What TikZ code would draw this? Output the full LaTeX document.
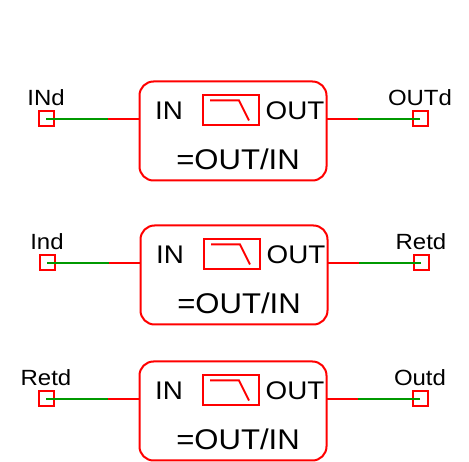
\documentclass[tikz,border=0pt]{standalone}
\usepackage{fontspec}
\setmainfont[FakeStretch=1.09]{Liberation Sans}
\usetikzlibrary{positioning}
\definecolor{wirered}{RGB}{255,0,0}
\definecolor{wiregreen}{RGB}{0,153,0}

\begin{document}
\begin{tikzpicture}[x=1pt, y=-1pt, on grid, line width=2pt,
    block/.style={draw=wirered, rounded corners=14pt, minimum width=187pt, minimum height=99pt, outer sep=0pt},
    icon/.style={draw=wirered, minimum width=56pt, minimum height=30pt, outer sep=0pt},
    pinbox/.style={draw=wirered, minimum size=15pt, outer sep=0pt},
    pinlabel/.style={inner sep=0pt, font=\fontsize{22}{22}\selectfont, text height=16pt, text depth=0pt},
    portlabel/.style={inner sep=0pt, font=\fontsize{25.5}{25.5}\selectfont, text height=18pt, text depth=0pt},
    formula/.style={inner sep=0pt, font=\fontsize{28.5}{28.5}\selectfont, text height=20pt, text depth=0pt},
    redwire/.style={draw=wirered},
    greenwire/.style={draw=wiregreen}]
  \useasboundingbox (0,0) rectangle (469,462);
  % first block
  \node[block] (b1) at (233,131) {};
  \node[icon, above left=21pt and 2.5pt of b1] (f1) {};
  \node[portlabel, below left=1pt and 61.5pt of f1] (in1) {IN};
  \node[portlabel, below right=1pt and 64.5pt of f1] (out1) {OUT};
  \node[formula, below right=28.5pt and 5pt of b1] (eq1) {=OUT/IN};
  \node[pinbox, above left=12pt and 187pt of b1] (pl1) {};
  \node[pinbox, above right=12pt and 187pt of b1] (pr1) {};
  \node[pinlabel, above=21pt of pl1] (ll1) {INd};
  \node[pinlabel, above=21pt of pr1] (lr1) {OUTd};
  \coordinate[right=62pt of pl1] (ml1);
  \coordinate[left=62pt of pr1] (mr1);
  \draw[redwire] ([shift={(-20.5pt,9.5pt)}]f1.center) -- ([shift={(8.5pt,9.5pt)}]f1.center) -- ([shift={(18.5pt,-10.5pt)}]f1.center);
  \draw[redwire] (ml1) -- (b1.west |- pl1);
  \draw[redwire] (mr1) -- (b1.east |- pr1);
  \draw[greenwire] (pl1.center) -- (ml1);
  \draw[greenwire] (pr1.center) -- (mr1);
  % second block
  \node[block] (b2) at (234,275) {};
  \node[icon, above left=21pt and 2.5pt of b2] (f2) {};
  \node[portlabel, below left=1pt and 61.5pt of f2] (in2) {IN};
  \node[portlabel, below right=1pt and 64.5pt of f2] (out2) {OUT};
  \node[formula, below right=28.5pt and 5pt of b2] (eq2) {=OUT/IN};
  \node[pinbox, above left=12pt and 187pt of b2] (pl2) {};
  \node[pinbox, above right=12pt and 187pt of b2] (pr2) {};
  \node[pinlabel, above=21pt of pl2] (ll2) {Ind};
  \node[pinlabel, above=21pt of pr2] (lr2) {Retd};
  \coordinate[right=62pt of pl2] (ml2);
  \coordinate[left=62pt of pr2] (mr2);
  \draw[redwire] ([shift={(-20.5pt,9.5pt)}]f2.center) -- ([shift={(8.5pt,9.5pt)}]f2.center) -- ([shift={(18.5pt,-10.5pt)}]f2.center);
  \draw[redwire] (ml2) -- (b2.west |- pl2);
  \draw[redwire] (mr2) -- (b2.east |- pr2);
  \draw[greenwire] (pl2.center) -- (ml2);
  \draw[greenwire] (pr2.center) -- (mr2);
  % third block
  \node[block] (b3) at (233,411) {};
  \node[icon, above left=21pt and 2.5pt of b3] (f3) {};
  \node[portlabel, below left=1pt and 61.5pt of f3] (in3) {IN};
  \node[portlabel, below right=1pt and 64.5pt of f3] (out3) {OUT};
  \node[formula, below right=28.5pt and 5pt of b3] (eq3) {=OUT/IN};
  \node[pinbox, above left=12pt and 187pt of b3] (pl3) {};
  \node[pinbox, above right=12pt and 187pt of b3] (pr3) {};
  \node[pinlabel, above=21pt of pl3] (ll3) {Retd};
  \node[pinlabel, above=21pt of pr3] (lr3) {Outd};
  \coordinate[right=62pt of pl3] (ml3);
  \coordinate[left=62pt of pr3] (mr3);
  \draw[redwire] ([shift={(-20.5pt,9.5pt)}]f3.center) -- ([shift={(8.5pt,9.5pt)}]f3.center) -- ([shift={(18.5pt,-10.5pt)}]f3.center);
  \draw[redwire] (ml3) -- (b3.west |- pl3);
  \draw[redwire] (mr3) -- (b3.east |- pr3);
  \draw[greenwire] (pl3.center) -- (ml3);
  \draw[greenwire] (pr3.center) -- (mr3);
\end{tikzpicture}
\end{document}
